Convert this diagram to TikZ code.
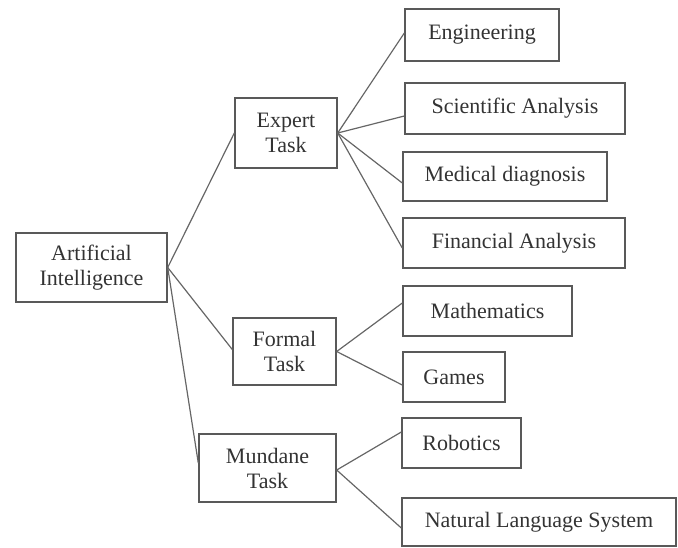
\documentclass[tikz,border=0pt]{standalone}
\usepackage{fontspec}
\setmainfont{Liberation Serif}
\usetikzlibrary{calc}
\begin{document}
\begin{tikzpicture}[x=0.5pt,y=-0.5pt,
  box/.style={draw=black!65,line width=0.7pt,rectangle,inner sep=0pt,
    align=center,text=black!80,font=\fontsize{11}{12.5}\selectfont},
  link/.style={draw=black!60,line width=0.6pt}]
\useasboundingbox (0,0) rectangle (678,547);
% root
\node[box,minimum width=75.5pt,minimum height=34.5pt] (ai) at (91.5,267.5) {Artificial\\Intelligence};
% task categories
\node[box,minimum width=51pt,minimum height=35pt] (expert) at (286,133) {Expert\\Task};
\node[box,minimum width=51.5pt,minimum height=33.5pt] (formal) at (284.5,351.5) {Formal\\Task};
\node[box,minimum width=68.5pt,minimum height=34pt] (mundane) at (267.5,468) {Mundane\\Task};
% expert tasks
\node[box,minimum width=77pt,minimum height=26pt] (eng) at (482,35) {Engineering};
\node[box,minimum width=110pt,minimum height=25.5pt] (sci) at (515,108.5) {Scientific Analysis};
\node[box,minimum width=102pt,minimum height=24.5pt] (med) at (505,176.5) {Medical diagnosis};
\node[box,minimum width=111pt,minimum height=25pt] (fin) at (514,243) {Financial Analysis};
% formal tasks
\node[box,minimum width=84.5pt,minimum height=25pt] (math) at (487.5,311) {Mathematics};
\node[box,minimum width=51pt,minimum height=25pt] (games) at (454,377) {Games};
% mundane tasks
\node[box,minimum width=59.5pt,minimum height=25pt] (rob) at (461.5,443) {Robotics};
\node[box,minimum width=137pt,minimum height=24pt] (nls) at (539,522) {Natural Language System};
% connectors
\draw[link] (ai.east) -- (expert.west);
\draw[link] (ai.east) -- ($(formal.west)+(0,-2)$);
\draw[link] (ai.east) -- ($(mundane.west)+(0,-5)$);
\draw[link] (expert.east) -- ($(eng.west)+(0,-2)$);
\draw[link] (expert.east) -- ($(sci.west)+(0,7.5)$);
\draw[link] (expert.east) -- ($(med.west)+(0,6.5)$);
\draw[link] (expert.east) -- ($(fin.west)+(0,5)$);
\draw[link] (formal.east) -- ($(math.west)+(0,-8)$);
\draw[link] (formal.east) -- ($(games.west)+(0,8)$);
\draw[link] ($(mundane.east)+(0,2)$) -- ($(rob.west)+(0,-11)$);
\draw[link] ($(mundane.east)+(0,2)$) -- ($(nls.west)+(0,6)$);
\end{tikzpicture}
\end{document}
